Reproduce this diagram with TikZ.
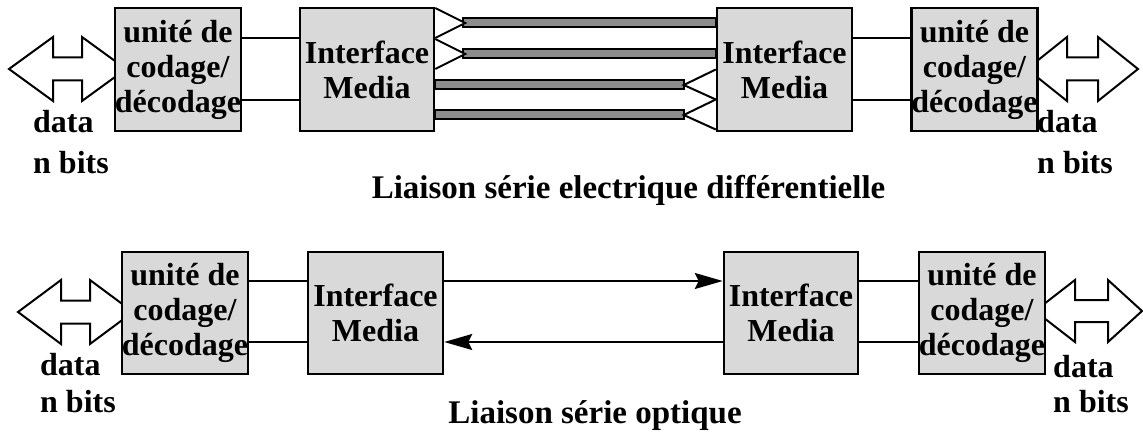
\documentclass[tikz,border=0pt]{standalone}
\usepackage{fontspec}
\setmainfont{Liberation Serif}
\usetikzlibrary{arrows.meta,calc}
\definecolor{boxgray}{HTML}{D9D9D9}
\definecolor{bargray}{HTML}{8C8C8C}
\begin{document}
\begin{tikzpicture}[x=1pt,y=-1pt,
  txt/.style={font=\bfseries\fontsize{32}{35}\selectfont},
  blk/.style={txt, draw, line width=2.5pt, fill=boxgray, inner sep=0pt, align=center, minimum height=123pt},
  lbl/.style={txt, inner sep=0pt, anchor=base west},
  captxt/.style={font=\bfseries\fontsize{33}{36}\selectfont, inner sep=0pt, anchor=base},
  wire/.style={line width=2pt},
  dbl/.style={draw, line width=2pt, fill=white, line join=miter},
  bar/.style={draw, line width=2pt, fill=bargray},
  tri/.style={draw, line width=2pt, fill=white, line join=miter},
  opt/.style={line width=2pt, -{Stealth[length=28pt,width=16pt,inset=4pt]}}
]
\path[use as bounding box] (0,0) rectangle (1143,433);

% ---------- top: double arrows (drawn first, boxes cover their inner tips)
\draw[dbl] (9,69) -- (53,37) -- (53,57.5) -- (82,57.5) -- (82,37) -- (126,69)
  -- (82,101) -- (82,80.5) -- (53,80.5) -- (53,101) -- cycle;
\draw[dbl] (1138,69) -- (1098,37) -- (1098,57.5) -- (1067,57.5) -- (1067,37) -- (1027,69)
  -- (1067,101) -- (1067,80.5) -- (1098,80.5) -- (1098,101) -- cycle;

% ---------- top boxes
\node[blk, minimum width=126pt] (u1) at (178,69.5) {unité de\\codage/\\décodage};
\node[blk, minimum width=134pt] (i1) at (367,69.5) {Interface\\Media};
\node[blk, minimum width=135pt] (i2) at (784.5,69.5) {Interface\\Media};
\node[blk, minimum width=125pt] (u2) at (974.5,69.5) {unité de\\codage/\\décodage};

\draw[wire] ([yshift=31pt]u1.east) -- ([yshift=31pt]i1.west);
\draw[wire] ([yshift=-31pt]u1.east) -- ([yshift=-31pt]i1.west);
\draw[wire] ([yshift=31pt]i2.east) -- ([yshift=31pt]u2.west);
\draw[wire] ([yshift=-31pt]i2.east) -- ([yshift=-31pt]u2.west);

% differential pairs
\draw[bar] ([shift={(28pt,51pt)}]i1.east) rectangle ([yshift=42pt]i2.west);
\draw[bar] ([shift={(28pt,20pt)}]i1.east) rectangle ([yshift=11pt]i2.west);
\draw[bar] ([yshift=-11pt]i1.east) rectangle ([shift={(-32pt,-20pt)}]i2.west);
\draw[bar] ([yshift=-41pt]i1.east) rectangle ([shift={(-32pt,-50pt)}]i2.west);
\draw[tri] ([yshift=61.5pt]i1.east) -- ([shift={(30pt,46.5pt)}]i1.east) -- ([yshift=31.5pt]i1.east);
\draw[tri] ([yshift=30.5pt]i1.east) -- ([shift={(30pt,15.5pt)}]i1.east) -- ([yshift=0.5pt]i1.east);
\draw[tri] ([yshift=0pt]i2.west) -- ([shift={(-32pt,-15.5pt)}]i2.west) -- ([yshift=-30pt]i2.west);
\draw[tri] ([yshift=-30pt]i2.west) -- ([shift={(-32pt,-45.5pt)}]i2.west) -- ([yshift=-60pt]i2.west);

\node[lbl] (d1) at (33,133) {data};
\node[lbl] (n1) at (33,173) {n bits};
\node[lbl] (d2) at (1037,133) {data};
\node[lbl] (n2) at (1037,173) {n bits};
\node[captxt] (c1) at (628.5,198) {Liaison série electrique différentielle};

% ---------- bottom: double arrows
\draw[dbl] (18,312) -- (61,280) -- (61,300.5) -- (90,300.5) -- (90,280) -- (133,312)
  -- (90,344) -- (90,323.5) -- (61,323.5) -- (61,344) -- cycle;
\draw[dbl] (1142,311) -- (1108,280) -- (1108,300) -- (1075,300) -- (1075,280) -- (1035,311)
  -- (1075,342) -- (1075,322) -- (1108,322) -- (1108,342) -- cycle;

\node[blk, minimum width=126pt, minimum height=122pt] (u3) at (185,313) {unité de\\codage/\\décodage};
\node[blk, minimum width=135pt, minimum height=122pt] (i3) at (375.5,313) {Interface\\Media};
\node[blk, minimum width=134pt, minimum height=122pt] (i4) at (791,313) {Interface\\Media};
\node[blk, minimum width=126pt, minimum height=122pt] (u4) at (982,313) {unité de\\codage/\\décodage};

\draw[wire] ([yshift=32pt]u3.east) -- ([yshift=32pt]i3.west);
\draw[wire] ([yshift=-29pt]u3.east) -- ([yshift=-29pt]i3.west);
\draw[wire] ([yshift=32pt]i4.east) -- ([yshift=32pt]u4.west);
\draw[wire] ([yshift=-29pt]i4.east) -- ([yshift=-29pt]u4.west);

\draw[opt] ([yshift=32pt]i3.east) -- ([yshift=32pt]i4.west);
\draw[opt] ([yshift=-29pt]i4.west) -- ([yshift=-29pt]i3.east);

\node[lbl] (d3) at (40,375) {data};
\node[lbl] (n3) at (40,412) {n bits};
\node[lbl] (d4) at (1053,377) {data};
\node[lbl] (n4) at (1053,412) {n bits};
\node[captxt] (c2) at (595,423) {Liaison série optique};
\end{tikzpicture}
\end{document}
